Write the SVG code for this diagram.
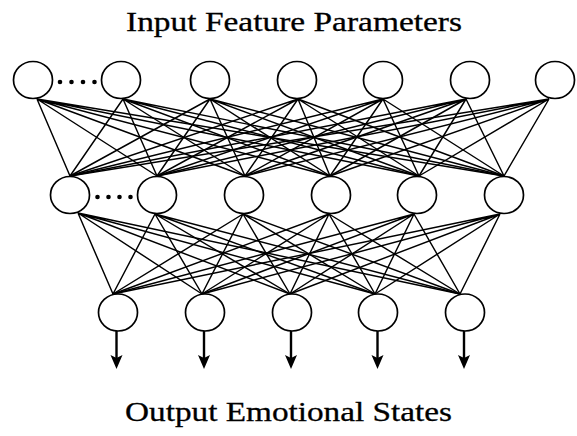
<svg xmlns="http://www.w3.org/2000/svg" width="577" height="436" viewBox="0 0 577 436">
<style>
.node{fill:#fff;stroke:#000;stroke-width:1.7}
.c{stroke:#000;stroke-width:1.45;fill:none}
.a{stroke:#000;stroke-width:2.4;fill:none}
.dot{fill:#000}
.t{font-family:"Liberation Serif","Times New Roman",serif;font-size:28px;fill:#000;stroke:#000;stroke-width:0.3}
</style>
<defs>
<path id="ah" d="M-6,-14 L0,-11 L6,-14 L0,0 Z" fill="#000"/>
</defs>
<rect width="577" height="436" fill="#fff"/>
<text class="t" x="126" y="31" textLength="336" lengthAdjust="spacingAndGlyphs">Input Feature Parameters</text>
<text class="t" x="125" y="421" textLength="327" lengthAdjust="spacingAndGlyphs">Output Emotional States</text>
<g id="connectors">
<g class="c">
<path d="M37,99L70,176M37,99L157,176M37,99L245,176M37,99L330,176M37,99L419,176M37,99L504,176"/>
<path d="M123,99L70,176M123,99L157,176M123,99L245,176M123,99L330,176M123,99L419,176M123,99L504,176"/>
<path d="M210,99L70,176M210,99L157,176M210,99L245,176M210,99L330,176M210,99L419,176M210,99L504,176"/>
<path d="M298,99L70,176M298,99L157,176M298,99L245,176M298,99L330,176M298,99L419,176M298,99L504,176"/>
<path d="M383,99L70,176M383,99L157,176M383,99L245,176M383,99L330,176M383,99L419,176M383,99L504,176"/>
<path d="M466,99L70,176M466,99L157,176M466,99L245,176M466,99L330,176M466,99L419,176M466,99L504,176"/>
<path d="M549,99L70,176M549,99L157,176M549,99L245,176M549,99L330,176M549,99L419,176M549,99L504,176"/>
<path d="M78,213L113,294M78,213L202,294M78,213L290,294M78,213L375,294M78,213L460,294"/>
<path d="M155,214L113,294M155,214L202,294M155,214L290,294M155,214L375,294M155,214L460,294"/>
<path d="M243,214L113,294M243,214L202,294M243,214L290,294M243,214L375,294M243,214L460,294"/>
<path d="M329,214L113,294M329,214L202,294M329,214L290,294M329,214L375,294M329,214L460,294"/>
<path d="M414,214L113,294M414,214L202,294M414,214L290,294M414,214L375,294M414,214L460,294"/>
<path d="M500,214L113,294M500,214L202,294M500,214L290,294M500,214L375,294M500,214L460,294"/>
</g>
<g class="a">
<line x1="116.5" y1="331" x2="116.5" y2="358"/>
<line x1="204" y1="331" x2="204" y2="358"/>
<line x1="291" y1="331" x2="291" y2="358"/>
<line x1="377.5" y1="331" x2="377.5" y2="358"/>
<line x1="464" y1="331" x2="464" y2="358"/>
</g>
<use href="#ah" x="116.5" y="369"/>
<use href="#ah" x="204" y="369"/>
<use href="#ah" x="291" y="369"/>
<use href="#ah" x="377.5" y="369"/>
<use href="#ah" x="464" y="369"/>
</g>
<g id="in1"><ellipse class="node" cx="33" cy="80" rx="19.5" ry="18.5"/></g>
<g id="in-dots"><circle class="dot" cx="60" cy="82" r="2.3"/><circle class="dot" cx="71.5" cy="82" r="2.3"/><circle class="dot" cx="83" cy="82" r="2.3"/><circle class="dot" cx="94.5" cy="82" r="2.3"/></g>
<g id="in2"><ellipse class="node" cx="121" cy="80" rx="19.5" ry="18.5"/></g>
<g id="in3"><ellipse class="node" cx="210" cy="80" rx="19.5" ry="18.5"/></g>
<g id="in4"><ellipse class="node" cx="297" cy="80" rx="19.5" ry="18.5"/></g>
<g id="in5"><ellipse class="node" cx="383" cy="80" rx="19.5" ry="18.5"/></g>
<g id="in6"><ellipse class="node" cx="470" cy="80" rx="19.5" ry="18.5"/></g>
<g id="in7"><ellipse class="node" cx="555" cy="80" rx="19.5" ry="18.5"/></g>
<g id="h1"><ellipse class="node" cx="70" cy="195" rx="19.5" ry="18.5"/></g>
<g id="h-dots"><circle class="dot" cx="97.5" cy="197" r="2.3"/><circle class="dot" cx="108.5" cy="197" r="2.3"/><circle class="dot" cx="119.5" cy="197" r="2.3"/><circle class="dot" cx="130.5" cy="197" r="2.3"/></g>
<g id="h2"><ellipse class="node" cx="157" cy="195" rx="19.5" ry="18.5"/></g>
<g id="h3"><ellipse class="node" cx="244" cy="195" rx="19.5" ry="18.5"/></g>
<g id="h4"><ellipse class="node" cx="331" cy="195" rx="19.5" ry="18.5"/></g>
<g id="h5"><ellipse class="node" cx="417" cy="195" rx="19.5" ry="18.5"/></g>
<g id="h6"><ellipse class="node" cx="504" cy="195" rx="19.5" ry="18.5"/></g>
<g id="o1"><ellipse class="node" cx="118" cy="312.5" rx="19.5" ry="18.5"/></g>
<g id="o2"><ellipse class="node" cx="205" cy="312.5" rx="19.5" ry="18.5"/></g>
<g id="o3"><ellipse class="node" cx="292" cy="312.5" rx="19.5" ry="18.5"/></g>
<g id="o4"><ellipse class="node" cx="378" cy="312.5" rx="19.5" ry="18.5"/></g>
<g id="o5"><ellipse class="node" cx="465" cy="312.5" rx="19.5" ry="18.5"/></g>
</svg>
